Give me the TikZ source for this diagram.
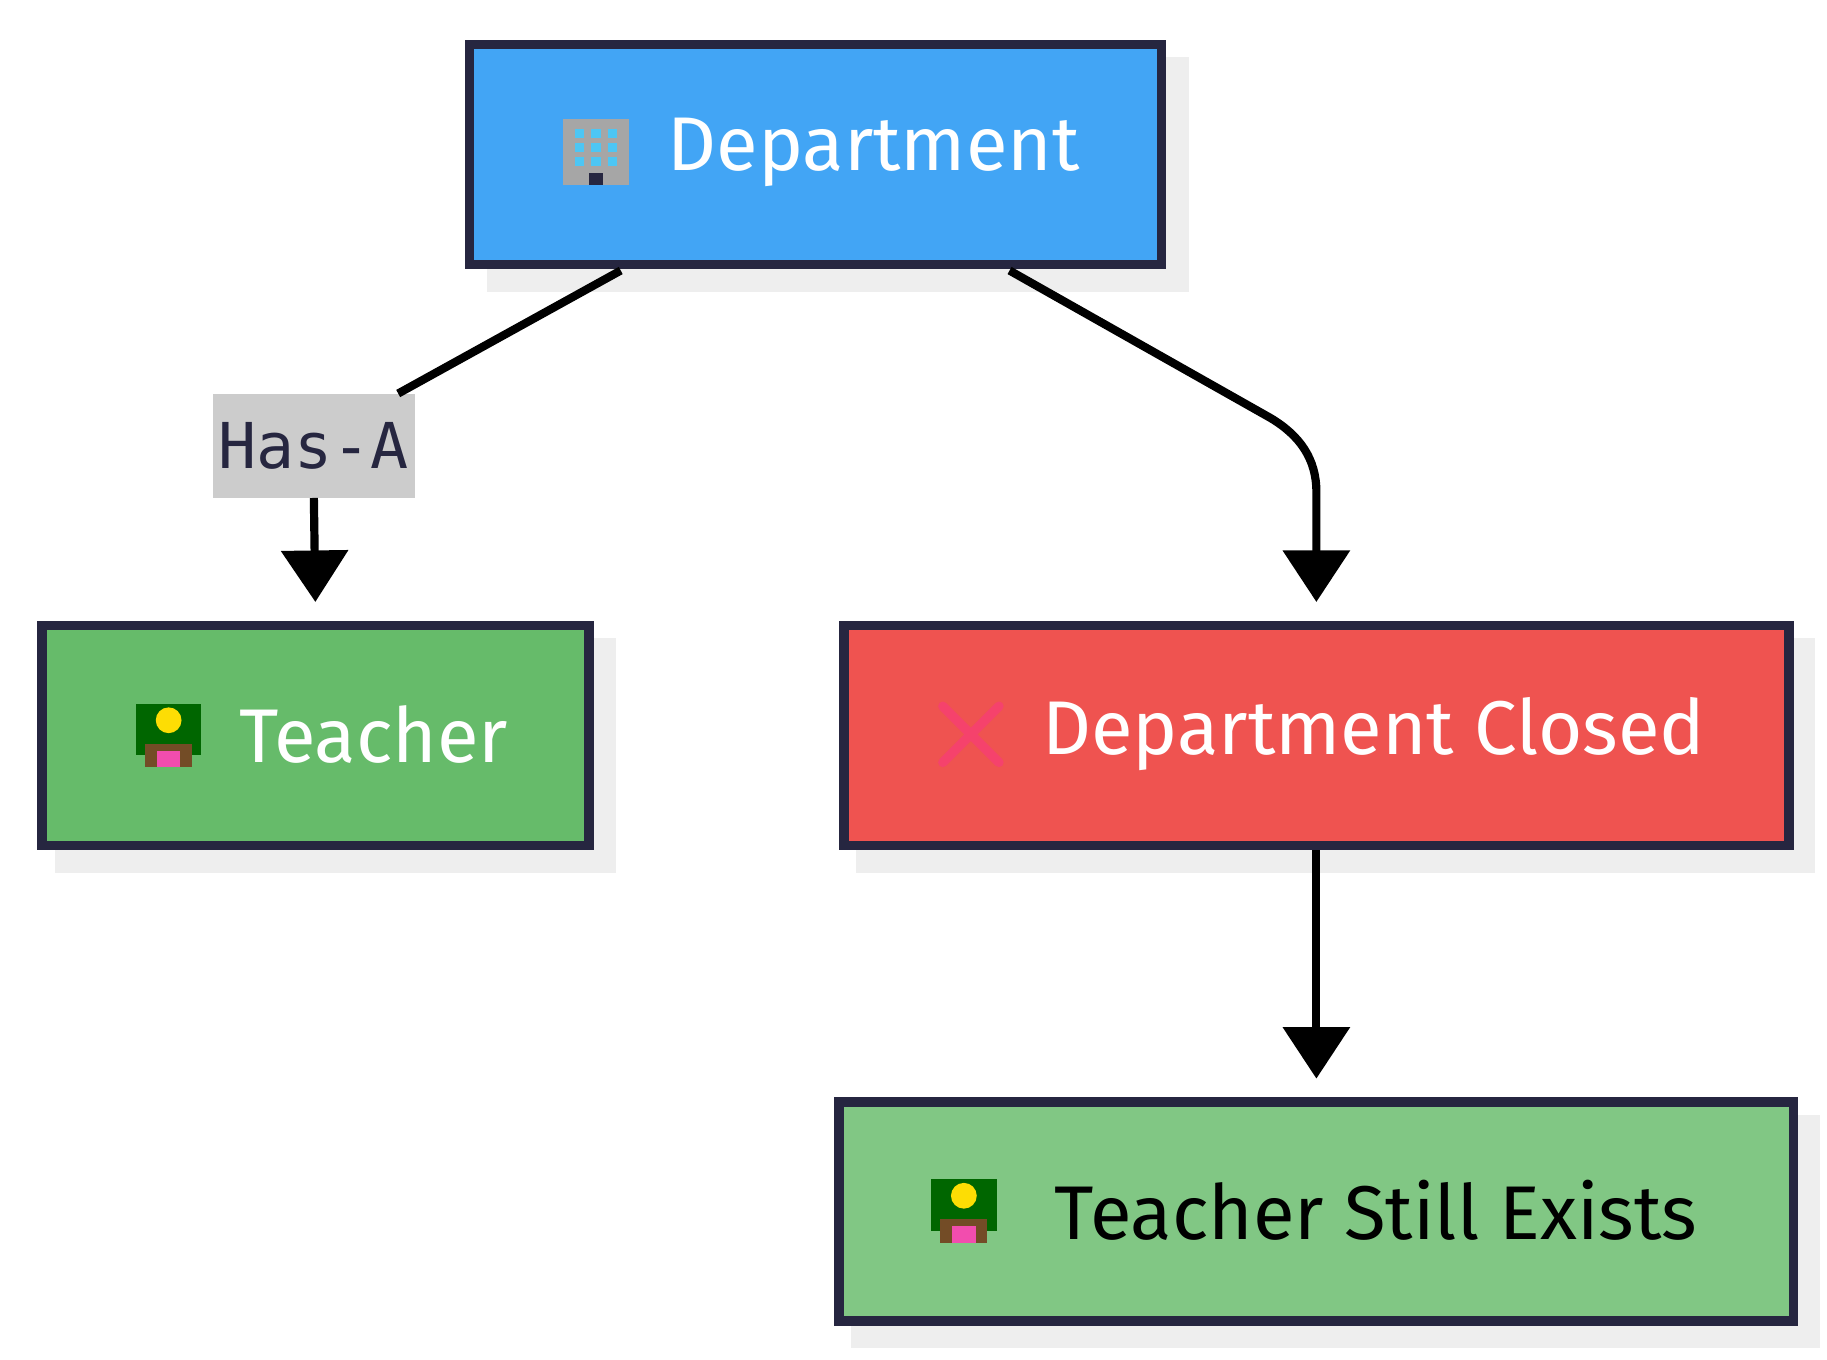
\documentclass[tikz,border=0pt]{standalone}
\usepackage{fontspec}
\setmainfont{Fira Sans}
\newfontfamily\monof{DejaVu Sans Mono}
\usetikzlibrary{arrows.meta}
\definecolor{bord}{HTML}{262640}
\definecolor{shad}{HTML}{EEEEEE}
\definecolor{cblue}{HTML}{42A5F5}
\definecolor{cgreen}{HTML}{66BB6A}
\definecolor{cred}{HTML}{EF5350}
\definecolor{cgreen2}{HTML}{81C784}
\definecolor{clbl}{HTML}{CCCCCC}
\definecolor{cx}{HTML}{F5426C}
\begin{document}
\begin{tikzpicture}[x=1pt,y=-1pt,
 box/.style={draw=bord,line width=8pt,inner sep=0pt},
 lbl/.style={font=\fontsize{65}{68}\selectfont,text=white,anchor=center},
 edge/.style={line width=7pt,-{Triangle[length=44pt,width=56pt]},shorten >=16pt},
 bldg/.pic={\fill[gray!70] (-28,-28) rectangle (28,28);
   \foreach \i in {-18,-4,10}{\foreach \j in {-20,-8,4}{\fill[cyan!70] (\i,\j) rectangle ++(8,8);}}
   \fill[bord] (-6,18) rectangle (6,28);},
 teach/.pic={\fill[green!40!black] (-28,-26) rectangle (28,18);
   \fill[brown!60!black] (-20,8) rectangle (20,28);
   \fill[yellow!80!orange] (0,-12) circle (11);
   \fill[magenta!70] (-10,14) rectangle (10,28);},
 cross/.pic={\draw[line width=8pt,cx,line cap=round] (-24,-24)--(24,24) (-24,24)--(24,-24);}]
\useasboundingbox (0,0) rectangle (1560,1161);
% shadows
\fill[shad] (416,49) rectangle (1015,249);
\fill[shad] (47,545) rectangle (526,745);
\fill[shad] (731,545) rectangle (1550,745);
\fill[shad] (727,952) rectangle (1554,1151);
% boxes
\node[box,fill=cblue,minimum width=591pt,minimum height=188pt] (dept) at (696.5,132) {};
\node[box,fill=cgreen,minimum width=467pt,minimum height=188pt] (teacher) at (269.5,628) {};
\node[box,fill=cred,minimum width=807pt,minimum height=188pt] (closed) at (1124,628) {};
\node[box,fill=cgreen2,minimum width=815pt,minimum height=187pt] (still) at (1124,1034.5) {};
% texts and icons
\node[lbl] (tdept) at (746,130) {Department};
\pic at (509,130) {bldg};
\node[lbl] (tteach) at (319,627) {Teacher};
\pic at (144,627) {teach};
\node[lbl] (tclosed) at (1173,627) {Department Closed};
\pic at (829,627) {cross};
\node[lbl,text=black] (tstill) at (1175,1033) {Teacher Still Exists};
\pic at (823,1033) {teach};
% label
\node[fill=clbl,minimum width=172pt,minimum height=89pt,inner sep=0pt,text=bord,font=\monof\fontsize{54}{56}\selectfont] (hasa) at (268,380.5) {Has-A};
% edges
\coordinate (d1) at (530,231);
\coordinate (d2) at (862,231);
\coordinate (h1) at (340,336);
\coordinate (bend) at (1085,357);
\draw[line width=7pt] (d1) -- (h1);
\draw[edge] (hasa.south) -- (teacher.north);
\draw[edge] (d2) -- (bend) .. controls (1110,372) and (1124,392) .. (1124,420) -- (closed.north);
\draw[edge] (closed.south) -- (still.north);
\end{tikzpicture}
\end{document}
